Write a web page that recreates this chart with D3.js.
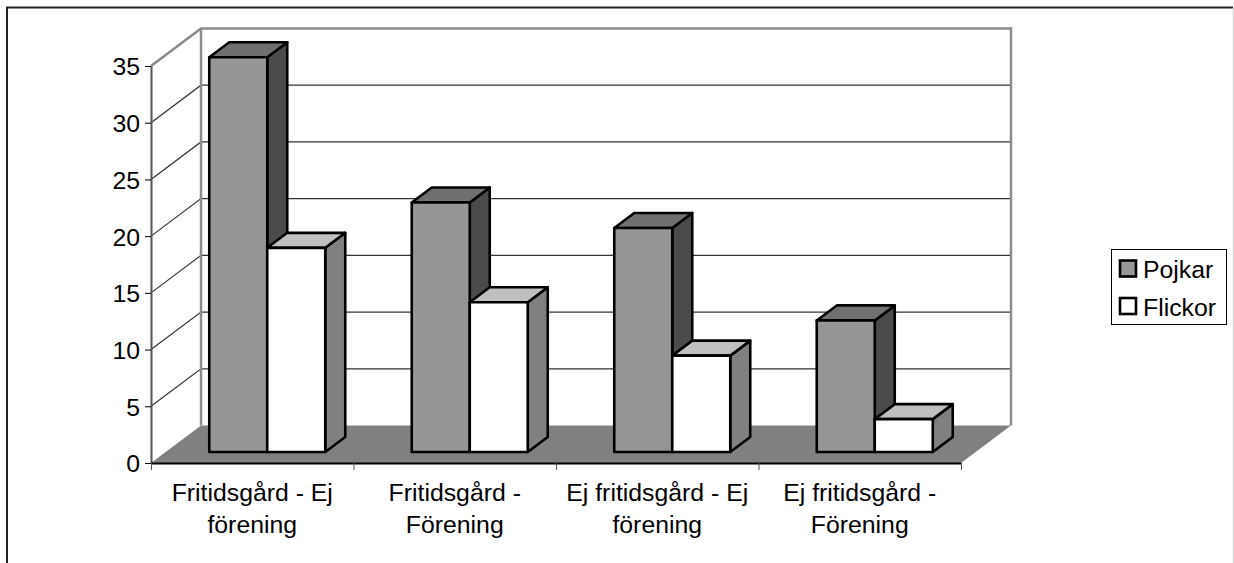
<!DOCTYPE html>
<html>
<head>
<meta charset="utf-8">
<script src="https://cdn.jsdelivr.net/npm/d3@7"></script>
<style>
  body { margin: 0; background: #fff; }
  svg { display: block; }
  text { font-family: "Liberation Sans", Arial, sans-serif; font-size: 24.8px; fill: #000; }
  .domain { stroke-width: 2px; }
</style>
</head>
<body>
<div id="chart"></div>
<script>
const categories = ['Fritidsgård - Ej förening', 'Fritidsgård - Förening', 'Ej fritidsgård - Ej förening', 'Ej fritidsgård - Förening']
const seriesNames = ['Pojkar', 'Flickor']
const pojkar = [34.8, 22, 19.75, 11.6]
const flickor = [18, 13.2, 8.5, 2.9]
const yTicks = [0, 5, 10, 15, 20, 25, 30, 35]

const width = 1234
const height = 563
const wall = {dx: 50, dy: -37.5}
const depth = {dx: 20, dy: -15}
const floorLift = {dx: 15, dy: -11}
const barWidth = 58

const colors = {
  Pojkar: {front: '#969696', top: '#707070', side: '#4b4b4b'},
  Flickor: {front: '#ffffff', top: '#c0c0c0', side: '#808080'}
}

const svg = d3.select('#chart').append('svg').attr('width', width).attr('height', height)

const xScale = d3.scaleBand().domain(categories).range([151, 961])
const edgeScale = d3.scaleLinear().domain([0, categories.length]).range([151, 961])
const yScale = d3.scaleLinear().domain([0, 35]).range([463, 66])
const seriesScale = d3.scaleBand().domain(seriesNames).range([0, barWidth * 2])

const line = d3.line()

// outer frame, cut off at the bottom like the original
svg.append('path').attr('d', line([[7, height], [7, 7.5], [width - 1, 7.5]]))
  .attr('fill', 'none').attr('stroke', '#222').attr('stroke-width', 2)
svg.append('line').attr('x1', width - 0.5).attr('x2', width - 0.5).attr('y1', 8).attr('y2', height)
  .attr('stroke', '#d9d9d9').attr('stroke-width', 1.5)

const x0 = xScale.range()[0]
const x1 = xScale.range()[1]
const y0 = yScale(0)
const yTop = yScale(35)

// floor
svg.append('path')
  .attr('d', line([[x0, y0], [x0 + wall.dx, y0 + wall.dy], [x1 + wall.dx, y0 + wall.dy], [x1, y0]]) + 'Z')
  .attr('fill', '#808080')

// gridlines on side wall and back wall
svg.append('g').selectAll('path').data(yTicks.filter(d => d > 0 && d < 35)).enter().append('path')
  .attr('d', d => line([[x0, yScale(d)], [x0 + wall.dx, yScale(d) + wall.dy], [x1 + wall.dx, yScale(d) + wall.dy]]))
  .attr('fill', 'none').attr('stroke', '#333').attr('stroke-width', 1.2)

// wall outline
svg.append('path')
  .attr('d', line([[x0, yTop], [x0 + wall.dx, yTop + wall.dy], [x1 + wall.dx, yTop + wall.dy], [x1 + wall.dx, y0 + wall.dy]]))
  .attr('fill', 'none').attr('stroke', '#8c8c8c').attr('stroke-width', 2.5)
svg.append('line')
  .attr('x1', x0 + wall.dx).attr('x2', x0 + wall.dx).attr('y1', yTop + wall.dy).attr('y2', y0 + wall.dy)
  .attr('stroke', '#8c8c8c').attr('stroke-width', 2.5)

// axes
const yAxis = svg.append('g').attr('transform', `translate(${x0},0)`)
  .call(d3.axisLeft(yScale).tickValues(yTicks).tickSize(6).tickSizeOuter(0).tickPadding(5))
yAxis.select('.domain').attr('stroke', '#555')
yAxis.selectAll('line').attr('stroke', '#000')
yAxis.selectAll('text')
  .attr('y', 1)
  .style('font-size', '24.8px')
  .style('font-family', '"Liberation Sans", Arial, sans-serif')

const xAxis = svg.append('g').attr('transform', `translate(0,${y0})`)
  .call(d3.axisBottom(edgeScale).ticks(categories.length).tickSize(7).tickSizeOuter(0).tickFormat(''))
xAxis.select('.domain').attr('stroke', '#000').attr('stroke-width', 1.5)
xAxis.selectAll('line').attr('stroke', '#555')

// bars, drawn back to front inside each group
const rows = categories.map((c, i) => [
  {cat: c, name: 'Pojkar', value: pojkar[i]},
  {cat: c, name: 'Flickor', value: flickor[i]}
])

const barG = svg.append('g').selectAll('.group').data(rows).enter().append('g').attr('class', 'group')
const bars = barG.selectAll('.bar').data(d => d).enter().append('g').attr('class', 'bar')

function barBox(d) {
  const left = xScale(d.cat) + (xScale.bandwidth() - barWidth * 2) / 2 + floorLift.dx + seriesScale(d.name)
  const bottom = yScale(0) + floorLift.dy
  const top = bottom - (yScale(0) - yScale(d.value))
  return {left, right: left + seriesScale.bandwidth(), bottom, top}
}

bars.append('path').attr('class', 'side')
  .attr('d', d => {
    const b = barBox(d)
    return line([[b.right, b.top], [b.right + depth.dx, b.top + depth.dy], [b.right + depth.dx, b.bottom + depth.dy], [b.right, b.bottom]]) + 'Z'
  })
  .attr('fill', d => colors[d.name].side)
bars.append('path').attr('class', 'top')
  .attr('d', d => {
    const b = barBox(d)
    return line([[b.left, b.top], [b.left + depth.dx, b.top + depth.dy], [b.right + depth.dx, b.top + depth.dy], [b.right, b.top]]) + 'Z'
  })
  .attr('fill', d => colors[d.name].top)
bars.append('path').attr('class', 'front')
  .attr('d', d => {
    const b = barBox(d)
    return line([[b.left, b.top], [b.right, b.top], [b.right, b.bottom], [b.left, b.bottom]]) + 'Z'
  })
  .attr('fill', d => colors[d.name].front)
bars.selectAll('path').attr('stroke', '#000').attr('stroke-width', 2.6).attr('stroke-linejoin', 'round')

// category labels
svg.append('g').selectAll('text').data(categories).enter().append('text')
  .attr('text-anchor', 'middle')
  .attr('y', 501)
  .text(d => d)
  .each(function(d) {
    wrap(d3.select(this), 200, xScale(d) + xScale.bandwidth() / 2)
  })

// legend
const legend = svg.append('g')
legend.append('rect').attr('x', 1111.5).attr('y', 249.5).attr('width', 115).attr('height', 75)
  .attr('fill', '#fff').attr('stroke', '#000').attr('stroke-width', 1)
const legendY = d3.scalePoint().domain(seriesNames).range([268.5, 306])
const legendG = legend.selectAll('.legendG').data(seriesNames).enter().append('g').attr('class', 'legendG')
legendG.append('rect').attr('x', 1120).attr('y', d => legendY(d) - 8).attr('width', 16).attr('height', 16)
  .attr('fill', d => colors[d].front).attr('stroke', '#000').attr('stroke-width', 2.6)
legendG.append('text').attr('x', 1143).attr('y', d => legendY(d) + 9.5).text(d => d)

function wrap(text, maxWidth, x) {
  const words = text.text().split(/\s+/).reverse()
  let word
  let cur = []
  let tspan = text.text(null).append('tspan').attr('x', x)
  while (word = words.pop()) {
    cur.push(word)
    tspan.text(cur.join(' '))
    if (tspan.node().getComputedTextLength() > maxWidth) {
      cur.pop()
      tspan.text(cur.join(' '))
      cur = [word]
      tspan = text.append('tspan').attr('x', x).attr('dy', 32).text(word)
    }
  }
}
</script>
</body>
</html>
